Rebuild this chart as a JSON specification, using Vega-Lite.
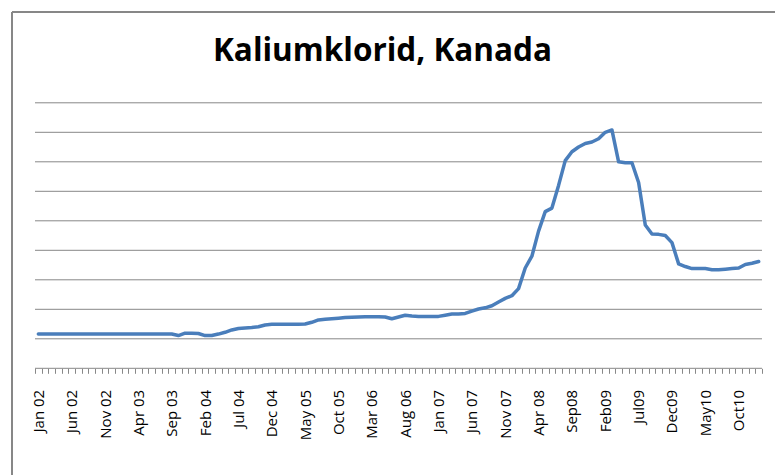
{
  "$schema": "https://vega.github.io/schema/vega-lite/v6.json",
  "autosize": "none",
  "width": 763,
  "height": 463,
  "padding": {"left": 12, "top": 12, "right": 0, "bottom": 0},
  "background": "white",
  "config": {
    "view": {"stroke": "#878787", "strokeWidth": 2, "strokeDash": [763, 1226, 463, 0]}
  },
  "title": {
    "text": "Kaliumklorid, Kanada",
    "font": "Open Sans",
    "fontSize": 31.5,
    "fontWeight": "bold",
    "color": "#000000",
    "anchor": "middle",
    "frame": "group",
    "baseline": "alphabetic",
    "offset": -80,
    "dx": -11
  },
  "encoding": {
    "x": {
      "field": "m",
      "type": "ordinal",
      "scale": {
        "type": "band",
        "paddingInner": 0,
        "paddingOuter": 0,
        "range": [23, 750],
        "domain": ["Jan 02","Feb 02","Mar 02","Apr 02","May 02","Jun 02","Jul 02","Aug 02","Sep 02","Oct 02","Nov 02","Dec 02",
                   "Jan 03","Feb 03","Mar 03","Apr 03","May 03","Jun 03","Jul 03","Aug 03","Sep 03","Oct 03","Nov 03","Dec 03",
                   "Jan 04","Feb 04","Mar 04","Apr 04","May 04","Jun 04","Jul 04","Aug 04","Sep 04","Oct 04","Nov 04","Dec 04",
                   "Jan 05","Feb 05","Mar 05","Apr 05","May 05","Jun 05","Jul 05","Aug 05","Sep 05","Oct 05","Nov 05","Dec 05",
                   "Jan 06","Feb 06","Mar 06","Apr 06","May 06","Jun 06","Jul 06","Aug 06","Sep 06","Oct 06","Nov 06","Dec 06",
                   "Jan 07","Feb 07","Mar 07","Apr 07","May 07","Jun 07","Jul 07","Aug 07","Sep 07","Oct 07","Nov 07","Dec 07",
                   "Jan 08","Feb 08","Mar 08","Apr 08","May 08","Jun 08","Jul 08","Aug 08","Sep08","Oct08","Nov08","Dec08",
                   "Jan09","Feb09","Mar09","Apr09","May09","Jun09","Jul09","Aug09","Sep09","Oct09","Nov09","Dec09",
                   "Jan10","Feb10","Mar10","Apr10","May10","Jun10","Jul10","Aug10","Sep10","Oct10","Nov10","Dec10",
                   "Jan11"]
      },
      "axis": {
        "orient": "bottom",
        "offset": -106.7,
        "domain": false,
        "grid": false,
        "title": null,
        "tickBand": "extent",
        "tickSize": 5,
        "tickColor": "#888888",
        "tickWidth": 1,
        "labelAngle": -90,
        "labelPadding": 16,
        "labelFont": "Open Sans",
        "labelFontSize": 15,
        "labelColor": "#000000",
        "labelOverlap": false,
        "labelExpr": "round(datum.index * 108) % 5 == 0 ? datum.label : ''"
      }
    },
    "y": {
      "field": "v",
      "type": "quantitative",
      "scale": {"domain": [-361.7, 1207.8], "nice": false, "zero": false},
      "axis": null
    }
  },
  "layer": [
    {
      "data": {"values": [
        {"v": 0, "m": "Jan 02", "m2": "Jan11"}, {"v": 100, "m": "Jan 02", "m2": "Jan11"},
        {"v": 200, "m": "Jan 02", "m2": "Jan11"}, {"v": 300, "m": "Jan 02", "m2": "Jan11"},
        {"v": 400, "m": "Jan 02", "m2": "Jan11"}, {"v": 500, "m": "Jan 02", "m2": "Jan11"},
        {"v": 600, "m": "Jan 02", "m2": "Jan11"}, {"v": 700, "m": "Jan 02", "m2": "Jan11"},
        {"v": 800, "m": "Jan 02", "m2": "Jan11"}, {"v": 900, "m": "Jan 02", "m2": "Jan11"}
      ]},
      "mark": {"type": "rule", "color": "#888888", "strokeWidth": 1, "xOffset": -3.33, "x2Offset": 3.33},
      "encoding": {
        "x2": {"field": "m2"}
      }
    },
    {
      "data": {"values": [
        {"m": "Jan 02", "v": 116}, {"m": "Feb 02", "v": 116}, {"m": "Mar 02", "v": 116}, {"m": "Apr 02", "v": 116},
        {"m": "May 02", "v": 116}, {"m": "Jun 02", "v": 116}, {"m": "Jul 02", "v": 116}, {"m": "Aug 02", "v": 116},
        {"m": "Sep 02", "v": 116}, {"m": "Oct 02", "v": 116}, {"m": "Nov 02", "v": 116}, {"m": "Dec 02", "v": 116},
        {"m": "Jan 03", "v": 116}, {"m": "Feb 03", "v": 116}, {"m": "Mar 03", "v": 116}, {"m": "Apr 03", "v": 116},
        {"m": "May 03", "v": 116}, {"m": "Jun 03", "v": 116}, {"m": "Jul 03", "v": 116}, {"m": "Aug 03", "v": 116},
        {"m": "Sep 03", "v": 116}, {"m": "Oct 03", "v": 111}, {"m": "Nov 03", "v": 119}, {"m": "Dec 03", "v": 119},
        {"m": "Jan 04", "v": 118}, {"m": "Feb 04", "v": 111}, {"m": "Mar 04", "v": 111}, {"m": "Apr 04", "v": 116},
        {"m": "May 04", "v": 122}, {"m": "Jun 04", "v": 130}, {"m": "Jul 04", "v": 135}, {"m": "Aug 04", "v": 137},
        {"m": "Sep 04", "v": 138}, {"m": "Oct 04", "v": 141}, {"m": "Nov 04", "v": 147}, {"m": "Dec 04", "v": 149},
        {"m": "Jan 05", "v": 149}, {"m": "Feb 05", "v": 149}, {"m": "Mar 05", "v": 149}, {"m": "Apr 05", "v": 149},
        {"m": "May 05", "v": 150}, {"m": "Jun 05", "v": 156}, {"m": "Jul 05", "v": 164}, {"m": "Aug 05", "v": 166},
        {"m": "Sep 05", "v": 168}, {"m": "Oct 05", "v": 170}, {"m": "Nov 05", "v": 172}, {"m": "Dec 05", "v": 173},
        {"m": "Jan 06", "v": 174}, {"m": "Feb 06", "v": 175}, {"m": "Mar 06", "v": 175}, {"m": "Apr 06", "v": 175},
        {"m": "May 06", "v": 174}, {"m": "Jun 06", "v": 168}, {"m": "Jul 06", "v": 174}, {"m": "Aug 06", "v": 180},
        {"m": "Sep 06", "v": 177}, {"m": "Oct 06", "v": 176}, {"m": "Nov 06", "v": 176}, {"m": "Dec 06", "v": 176},
        {"m": "Jan 07", "v": 176}, {"m": "Feb 07", "v": 180}, {"m": "Mar 07", "v": 184}, {"m": "Apr 07", "v": 184},
        {"m": "May 07", "v": 186}, {"m": "Jun 07", "v": 194}, {"m": "Jul 07", "v": 201}, {"m": "Aug 07", "v": 205},
        {"m": "Sep 07", "v": 212}, {"m": "Oct 07", "v": 225}, {"m": "Nov 07", "v": 237}, {"m": "Dec 07", "v": 246},
        {"m": "Jan 08", "v": 270}, {"m": "Feb 08", "v": 340}, {"m": "Mar 08", "v": 380}, {"m": "Apr 08", "v": 465},
        {"m": "May 08", "v": 531}, {"m": "Jun 08", "v": 543}, {"m": "Jul 08", "v": 620}, {"m": "Aug 08", "v": 704},
        {"m": "Sep08", "v": 734}, {"m": "Oct08", "v": 750}, {"m": "Nov08", "v": 762}, {"m": "Dec08", "v": 767},
        {"m": "Jan09", "v": 778}, {"m": "Feb09", "v": 800}, {"m": "Mar09", "v": 808}, {"m": "Apr09", "v": 700},
        {"m": "May09", "v": 697}, {"m": "Jun09", "v": 697}, {"m": "Jul09", "v": 630}, {"m": "Aug09", "v": 486},
        {"m": "Sep09", "v": 455}, {"m": "Oct09", "v": 454}, {"m": "Nov09", "v": 450}, {"m": "Dec09", "v": 426},
        {"m": "Jan10", "v": 354}, {"m": "Feb10", "v": 345}, {"m": "Mar10", "v": 338}, {"m": "Apr10", "v": 338},
        {"m": "May10", "v": 338}, {"m": "Jun10", "v": 334}, {"m": "Jul10", "v": 334}, {"m": "Aug10", "v": 336},
        {"m": "Sep10", "v": 338}, {"m": "Oct10", "v": 340}, {"m": "Nov10", "v": 352}, {"m": "Dec10", "v": 356},
        {"m": "Jan11", "v": 362}
      ]},
      "mark": {"type": "line", "color": "#4a7ebb", "strokeWidth": 3.5, "strokeCap": "round", "strokeJoin": "round"}
    }
  ]
}
